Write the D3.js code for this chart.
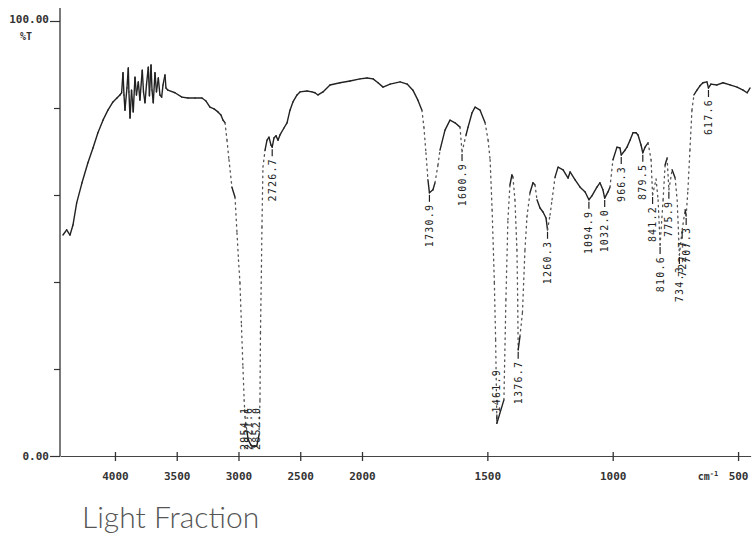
<!DOCTYPE html>
<html><head><meta charset="utf-8">
<script src="https://cdn.jsdelivr.net/npm/d3@7"></script>
<style>
html,body{margin:0;padding:0;background:#fff;}
svg{display:block;}
</style></head><body>
<svg id="chart" width="753" height="539"></svg>
<script>
// ---- data ----
const wavenumber = [4421,4391,4364,4340,4310,4267,4219,4178,4138,4097,4057,4016,3984,3960,
3946,3935,3927,3919,3903,3892,3887,3878,3866,3852,3838,3826,3811,3798,3779,3769,3757,3745,3730,3721,3708,3700,3690,3676,3664,3649,3636,3622,3611,3595,3587,3571,
3514,3458,3409,3352,3296,3263,3231,3198,3166,3142,3125,3109,3093,3077,3053,3028,3012,3000,2988,2976,2964,2954,2947,2931,2921,2899,2874,2852,2834,2826,2822,2814,2810,2802,2785,2769,2753,2737,2727,2713,2696,2680,2664,2632,2607,2583,2559,2526,2502,2445,2405,2381,2356,2316,2259,2178,2097,2016,
1980,1956,1936,1916,1888,1848,1820,1797,1777,1761,1753,1745,1737,1731,1717,1709,1697,1689,1669,1649,1629,1609,1601,1585,1577,1561,1549,1529,1509,1497,1489,1481,1472,1467,1462,1434,1426,1418,1410,1402,1398,1390,1382,1379,1377,1370,1360,1350,1342,1330,1318,1310,1302,1290,1278,1266,1260,1250,1242,1230,1218,1198,1178,1170,1150,1130,1110,1095,1083,1063,1051,1039,1032,1019,1011,999,983,971,966,951,943,931,919,907,899,887,880,871,859,847,841,827,819,811,799,791,783,776,763,751,743,734,723,711,707,700,692,684,676,664,652,640,624,618,608,584,560,532,504,480,464,452];
const transmittance = [50.8,52.0,50.8,53.1,58.2,62.8,67.4,70.8,74.3,77.2,79.5,81.4,82.3,83.0,
83.5,88.1,83.0,79.5,84.6,89.2,83.7,77.7,84.1,79.1,87.1,83.0,86.0,81.8,88.7,83.7,81.2,85.3,89.4,82.8,89.9,84.1,81.2,88.1,83.7,86.9,83.0,82.5,85.3,87.6,84.6,84.1,
83.5,82.5,82.3,82.3,82.3,81.6,80.2,79.8,79.1,78.4,77.2,76.6,72.6,68.1,61.8,59.5,51.3,45.1,39.8,30.1,20.5,12.9,9.0,5.5,3.7,2.5,2.1,2.3,4.8,12.9,28.3,43.5,52.6,66.4,70.3,72.6,73.3,71.5,71.0,73.1,73.6,72.6,73.8,75.4,76.6,79.5,81.4,83.0,83.7,83.9,83.7,83.5,83.0,83.7,85.3,85.8,86.2,86.7,
86.9,86.7,85.8,84.8,85.5,86.0,85.5,84.1,81.8,79.5,75.6,69.7,63.5,60.5,61.2,62.8,66.9,70.3,74.9,77.2,76.6,75.6,69.9,73.8,75.6,78.9,80.2,79.5,76.6,72.6,68.1,56.6,39.8,26.7,7.5,12.9,35.9,54.3,62.3,64.6,64.1,58.9,47.4,36.0,24.4,27.5,33.0,47.4,55.0,60.5,62.8,62.3,58.9,57.0,56.1,54.7,52.0,55.4,58.9,64.1,66.4,65.8,63.9,65.3,63.5,61.8,60.7,58.9,59.8,61.8,62.8,61.2,59.3,60.7,61.8,68.1,71.0,70.8,69.2,70.3,71.0,72.6,74.3,74.3,73.8,71.5,69.7,71.0,72.0,68.1,60.0,63.7,58.9,48.5,58.9,66.9,68.5,61.2,65.8,63.9,58.9,46.2,52.0,56.6,55.2,61.2,70.3,79.5,83.0,84.1,85.1,85.8,86.0,84.6,85.5,85.3,85.8,85.3,84.8,84.1,83.5,84.6];

const peakWavenumbers = [2954,2921,2852,2727,1731,1601,1462,1377,1260,1095,1032,966,880,841,811,776,734,723,707,618];
const peakLabels = ["2954.1","2921.6","2852.0","2726.7","1730.9","1600.9","1461.9","1376.7","1260.3","1094.9","1032.0","966.3","879.5","841.2","810.6","775.9","734.3","722.7","707.3","617.6"];

const xTickValues = [4000,3500,3000,2500,2000,1500,1000,500];
const xTickLabels = ["4000","3500","3000","2500","2000","1500","1000","500"];
const yTickValues = [0,20,40,60,80,100];
const yTickLabels = ["0.00","","","","","100.00"];
const yUnit = "%T";
const xUnit = "cm";
const xUnitSup = "-1";
const caption = "Light Fraction";

// ---- drawing ----
const svg = d3.select("#chart");
const x = d3.scaleLinear().domain([4445, 2000, 450]).range([60, 362, 750.6]);
const y = d3.scaleLinear().domain([0, 100]).range([456, 21]);
const ink = "#222";
const axisFont = "'DejaVu Sans Mono', monospace";

// x axis
const gx = svg.append("g").attr("transform", `translate(0,${y(0)})`)
  .call(d3.axisBottom(x).tickValues(xTickValues).tickFormat((d, i) => xTickLabels[i]).tickSize(5).tickSizeOuter(0));
gx.select(".domain").attr("stroke", "#444").attr("stroke-width", 1.2);
gx.selectAll(".tick line").attr("y1", -4).attr("y2", 5).attr("stroke", "#333").attr("stroke-width", 1.3);
gx.selectAll(".tick text").attr("y", 24).attr("dy", 0)
  .attr("font-family", axisFont).attr("font-size", 11).attr("font-weight", "bold").attr("fill", "#333");
const unit = svg.append("text").attr("x", x(620)).attr("y", y(0) + 24)
  .attr("font-family", axisFont).attr("font-size", 10).attr("font-weight", "bold").attr("fill", "#333")
  .attr("text-anchor", "middle");
unit.append("tspan").text(xUnit);
unit.append("tspan").attr("dy", -4).attr("font-size", 7).text(xUnitSup);

// y axis
const gy = svg.append("g").attr("transform", `translate(${x(4445)},0)`)
  .call(d3.axisLeft(y).tickValues(yTickValues).tickFormat((d, i) => yTickLabels[i]).tickSize(6).tickSizeOuter(0).tickPadding(3));
gy.select(".domain").remove();
gy.append("line").attr("x1", 0).attr("x2", 0).attr("y1", 8).attr("y2", y(0))
  .attr("stroke", "#333").attr("stroke-width", 1.3);
gy.selectAll(".tick line").attr("stroke", "#333").attr("stroke-width", 1.2)
  .attr("x2", d => (d === 0 || d === 100) ? -10 : -6);
gy.selectAll(".tick text").attr("x", d => (d === 0 || d === 100) ? -11 : -9)
  .attr("dy", d => d === 100 ? "0.1em" : "0.35em")
  .attr("font-family", axisFont).attr("font-size", 11).attr("font-weight", "bold").attr("fill", "#333");
svg.append("text").attr("x", 26).attr("y", y(100) + 19).attr("text-anchor", "middle")
  .attr("font-family", axisFont).attr("font-size", 10).attr("font-weight", "bold").attr("fill", "#333")
  .text(yUnit);

// spectrum: steep plotter strokes drawn dotted, the rest solid
const pts = wavenumber.map((w, i) => [x(w), y(transmittance[i])]);
const gc = svg.append("g");
for (let i = 0; i < pts.length - 1; i++) {
  const [x1, y1] = pts[i], [x2, y2] = pts[i + 1];
  const steep = wavenumber[i] < 3500 && Math.abs(y2 - y1) > 14 && Math.abs(y2 - y1) > 4 * Math.abs(x2 - x1);
  gc.append("line").attr("x1", x1).attr("y1", y1).attr("x2", x2).attr("y2", y2)
    .attr("stroke", steep ? "#555" : ink)
    .attr("stroke-width", steep ? 1.3 : 1.4)
    .attr("stroke-linecap", "round")
    .attr("stroke-dasharray", steep ? "1.5,4" : null);
}

// peak labels
const tAt = d3.scaleLinear().domain(wavenumber).range(transmittance);
const gap = 11;
const aboveSet = new Set(["1461.9"]);
const gl = svg.append("g");
peakWavenumbers.forEach((w, i) => {
  const px = x(w), pm = y(tAt(w));
  const t = gl.append("text")
    .attr("font-family", axisFont).attr("font-size", 10).attr("letter-spacing", 1.2)
    .attr("fill", ink).attr("dy", "0.35em").text(peakLabels[i]);
  const len = t.node().getComputedTextLength();
  let anchorY, dashA, dashB, anchor;
  if (aboveSet.has(peakLabels[i])) {
    anchorY = pm - gap; anchor = "start"; dashA = pm - 2; dashB = pm - gap + 2;
  } else {
    anchorY = pm + gap; anchor = "end"; dashA = pm + 2; dashB = pm + gap - 2;
    if (anchorY + len > y(0) - 6) {
      anchorY = y(0) - 6 - len; dashA = dashB = null;
    }
  }
  t.attr("text-anchor", anchor).attr("transform", `translate(${px},${anchorY}) rotate(-90)`);
  if (dashA !== null) {
    gl.append("line").attr("x1", px).attr("x2", px).attr("y1", dashA).attr("y2", dashB)
      .attr("stroke", ink).attr("stroke-width", 1.2);
  }
});

// caption
svg.append("text").attr("x", 82).attr("y", 528)
  .attr("font-family", "Lato, 'Open Sans', sans-serif").attr("font-weight", 300)
  .attr("font-size", 30).attr("fill", "#555").text(caption);
</script>
</body></html>
